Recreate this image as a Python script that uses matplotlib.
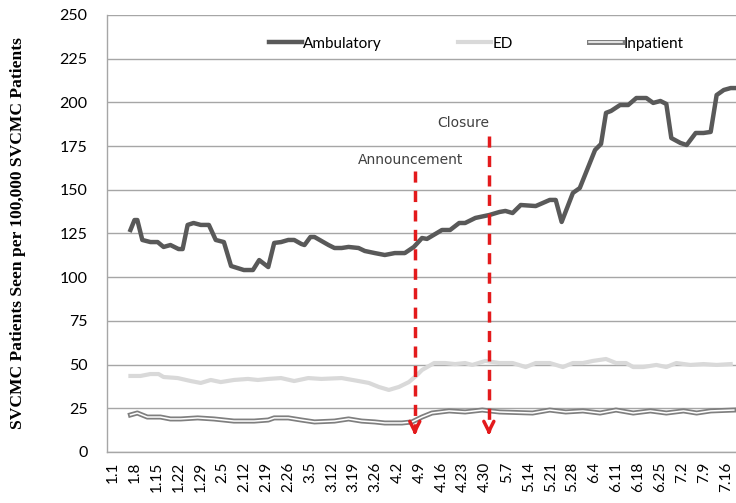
import numpy as np
import matplotlib
matplotlib.use("Agg")
import matplotlib.pyplot as plt

# days counted from Jan 1, one tick label per week
tick_labels = ['1.1', '1.8', '1.15', '1.22', '1.29', '2.5', '2.12', '2.19', '2.26',
               '3.5', '3.12', '3.19', '3.26', '4.2', '4.9', '4.16', '4.23', '4.30',
               '5.7', '5.14', '5.21', '5.28', '6.4', '6.11', '6.18', '6.25',
               '7.2', '7.9', '7.16']

amb_day = [5.5, 6.8, 7.7, 9.3, 11.9, 14.2, 16.1, 18.3, 20.9, 22.2, 23.8, 25.7, 28.0,
           30.6, 32.8, 35.4, 37.7, 41.8, 44.7, 46.7, 49.6, 51.5, 53.7, 56.0, 57.9,
           60.2, 61.2, 63.1, 64.4, 68.9, 70.8, 73.1, 75.3, 78.5, 80.5, 83.7, 86.9,
           90.1, 93.3, 96.2, 98.8, 100.4, 105.2, 107.8, 110.7, 112.6, 115.9, 120.4,
           123.6, 125.5, 127.8, 130.4, 135.2, 137.4, 139.7, 141.6, 143.5, 147.1,
           149.3, 154.2, 156.1, 157.7, 159.3, 162.2, 164.8, 167.4, 170.6, 172.8,
           175.1, 177.0, 178.6, 181.5, 183.5, 186.4, 188.9, 191.2, 193.1, 195.4,
           197.6, 198.6]
amb_val = [127, 132.7, 132.7, 121.3, 120.1, 120.1, 117.3, 118.4, 116.1, 116.1, 129.9,
           131, 129.9, 129.9, 121.3, 120.1, 106.4, 104.1, 104.1, 109.8, 105.8, 119.6,
           120.1, 121.3, 121.3, 119, 118.4, 123, 123, 118.4, 116.7, 116.7, 117.3,
           116.7, 115, 113.8, 112.7, 113.8, 113.8, 117.3, 122.4, 121.9, 127, 127,
           131, 131, 133.9, 135.6, 137.3, 137.9, 136.7, 141.3, 140.7, 142.4, 144.2,
           144.2, 131.6, 148.2, 151, 172.8, 176.2, 194, 195.1, 198.5, 198.5, 202.5,
           202.5, 199.7, 200.8, 199.1, 179.6, 176.8, 175.6, 182.5, 182.5, 183.1,
           204.2, 207.1, 208.2, 208.2]

ed_day = [5.5, 8.7, 11.9, 14.5, 16.1, 20.6, 24.8, 28.0, 31.2, 34.4, 38.6, 43.1, 46.3,
          49.6, 53.7, 57.9, 62.4, 66.6, 73.1, 78.5, 81.8, 85.0, 88.2, 91.4, 94.6,
          97.2, 98.8, 102.7, 106.2, 109.4, 112.6, 114.9, 119.1, 123.6, 127.8, 132.0,
          135.2, 139.7, 143.9, 147.1, 150.3, 153.5, 157.7, 160.9, 164.1, 166.4,
          169.6, 173.8, 177.0, 180.2, 184.7, 188.9, 193.1, 197.6]
ed_val = [43.5, 43.5, 44.6, 44.6, 42.9, 42.3, 40.6, 39.5, 41.2, 40, 41.2, 41.8, 41.2,
          41.8, 42.3, 40.6, 42.3, 41.8, 42.3, 40.6, 39.5, 37.2, 35.5, 37.2, 40, 44,
          46.9, 50.9, 50.9, 50.3, 50.9, 49.8, 52.1, 50.9, 50.9, 48.6, 50.9, 50.9,
          48.6, 50.9, 50.9, 52.1, 53.2, 50.9, 50.9, 48.6, 48.6, 49.8, 48.6, 50.9,
          49.8, 50.3, 49.8, 50.3]

inp_day = [5.5, 7.7, 10.9, 15.1, 18.3, 21.6, 27.0, 32.2, 38.6, 45.1, 49.6, 51.5, 56.0,
           60.2, 64.4, 70.8, 75.3, 79.5, 83.7, 86.9, 92.4, 95.6, 98.8, 102.0, 107.5,
           112.6, 118.1, 123.6, 134.2, 139.7, 144.8, 150.3, 155.8, 160.9, 166.4,
           171.9, 177.0, 182.5, 186.7, 191.2, 198.6]
inp_val = [21.2, 22.3, 20, 20, 18.9, 18.9, 19.5, 18.9, 17.7, 17.7, 18.3, 19.5, 19.5,
           18.3, 17.2, 17.7, 18.9, 17.7, 17.2, 16.6, 16.6, 17.2, 20, 22.3, 23.5, 22.9,
           24, 22.9, 22.3, 24, 22.9, 23.5, 22.3, 24, 22.3, 23.5, 22.3, 23.5, 22.3,
           23.5, 24]

events = ['Announcement', 'Closure']
event_day = [96.5, 120.2]
event_top = [161, 181]

fig = plt.figure(figsize=(7.36, 5.03), dpi=100)
ax = fig.add_axes([0.1454, 0.1014, 0.8546, 0.8688])

ax.plot(amb_day, amb_val, color='#595959', lw=3.2, label='Ambulatory',
        solid_joinstyle='round', zorder=4)
ax.plot(ed_day, ed_val, color='#d9d9d9', lw=3.0, label='ED',
        solid_joinstyle='round', zorder=3)
inp_line, = ax.plot(inp_day, inp_val, color='#7f7f7f', lw=3.6,
                    solid_joinstyle='round', zorder=3)
inp_in, = ax.plot(inp_day, inp_val, color='white', lw=1.1,
                  solid_joinstyle='round', zorder=3)

# event arrows
for name, d, top in zip(events, event_day, event_top):
    ax.plot([d, d], [top, 12], color='#e31a1c', lw=2.5, ls=(0, (3.2, 2.4)), zorder=5)
    ax.annotate('', xy=(d, 8), xytext=(d, 14),
                arrowprops=dict(arrowstyle='->', color='#e31a1c', lw=2.5,
                                mutation_scale=18), zorder=5)
ax.text(95, 167, events[0], ha='center', va='center', fontsize=10,
        color='#404040', family='DejaVu Sans')
ax.text(112, 188, events[1], ha='center', va='center', fontsize=10,
        color='#404040', family='DejaVu Sans')

ax.set_xlim(-2, 199.3)
ax.set_ylim(0, 250)
ax.set_yticks(np.arange(0, 251, 25))
ax.set_xticks(np.arange(len(tick_labels)) * 7)
ax.set_xticklabels(tick_labels, rotation=90, family='Lato', fontsize=11)
for t in ax.get_yticklabels():
    t.set_family('Lato')
    t.set_fontsize(11.5)
ax.tick_params(length=0)
ax.tick_params(axis='y', pad=14)
ax.tick_params(axis='x', pad=7)
ax.grid(axis='y', color='#a6a6a6', lw=1.0)
ax.set_axisbelow(True)
for s in ['top', 'right']:
    ax.spines[s].set_visible(False)
for s in ['left', 'bottom']:
    ax.spines[s].set_color('#a6a6a6')
    ax.spines[s].set_linewidth(1.0)

ax.set_ylabel('SVCMC Patients Seen per 100,000 SVCMC Patients', family='Liberation Serif',
              fontweight='bold', fontsize=12.6, labelpad=24)

leg = ax.legend([ax.lines[0], ax.lines[1], (inp_line, inp_in)],
                ['Ambulatory', 'ED', 'Inpatient'], ncol=3, frameon=False,
                loc='center', bbox_to_anchor=(0.587, 0.934), handlelength=2.15,
                handletextpad=0.1, columnspacing=5.0, prop={'family': 'Lato', 'size': 11})

fig.savefig('out.png', dpi=100)
